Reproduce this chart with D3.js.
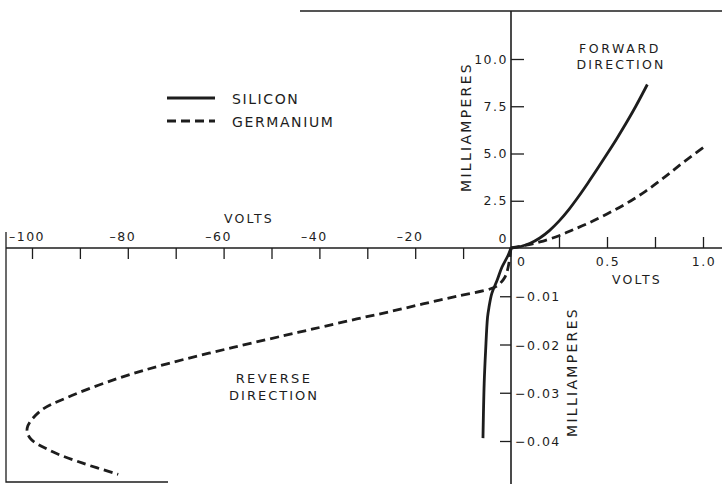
<!DOCTYPE html>
<html>
<head>
<meta charset="utf-8">
<script src="https://cdn.jsdelivr.net/npm/d3@7"></script>
<style>
  body { margin: 0; background: #fff; }
  text { font-family: "DejaVu Sans", sans-serif; fill: #1d1d1d; }
</style>
</head>
<body>
<svg id="chart" width="722" height="484"></svg>
<script>
// tick values on the four half-axes
const reverseVoltTicks = [-100, -90, -80, -70, -60, -50, -40, -30, -20, -10];
const reverseVoltLabels = [-100, -80, -60, -40, -20];
const forwardVoltTicks = [0.25, 0.5, 0.75, 1.0];
const forwardVoltLabels = [0, 0.5, 1.0];
const forwardAmpTicks = [2.5, 5.0, 7.5, 10.0];
const forwardAmpLabels = [0, 2.5, 5.0, 7.5, 10.0];
const reverseAmpTicks = [-0.01, -0.02, -0.03, -0.04];

// silicon, forward (volts, mA) and reverse (volts, mA)
const siliconFwdV = [0, 0.05, 0.1, 0.15, 0.2, 0.25, 0.3, 0.35, 0.4, 0.45, 0.5, 0.55, 0.6, 0.65, 0.71];
const siliconFwdI = [0, 0.08, 0.25, 0.53, 0.92, 1.42, 2.02, 2.7, 3.43, 4.19, 4.97, 5.77, 6.61, 7.5, 8.65];
const siliconRevV = [0, -0.6, -1.9, -2.9, -4.0, -4.6, -4.9, -5.3, -5.6, -5.85];
const siliconRevI = [0, -0.0015, -0.004, -0.0067, -0.0094, -0.0123, -0.0144, -0.0213, -0.0281, -0.0394];

// germanium, forward and reverse
const germaniumFwdV = [0, 0.08, 0.15, 0.25, 0.32, 0.4, 0.5, 0.6, 0.7, 0.8, 0.9, 1.02];
const germaniumFwdI = [0, 0.15, 0.32, 0.65, 0.95, 1.3, 1.8, 2.35, 3.0, 3.75, 4.55, 5.45];
const germaniumRevV = [0, -0.6, -1.25, -2.7, -4.4, -11.3, -18.4, -25.3, -32.2, -39.2, -44.5,
  -58.0, -71.8, -82.3, -92.7, -98.3, -101, -100.4, -96.2, -89.4, -82];
const germaniumRevI = [0, -0.004, -0.006, -0.0077, -0.0085, -0.0100, -0.0116, -0.0132, -0.0147,
  -0.0163, -0.0175, -0.0206, -0.024, -0.0271, -0.031, -0.0338, -0.0373, -0.0394, -0.042, -0.0446, -0.0469];

const ink = "#1d1d1d";
const svg = d3.select("#chart");

const xRev = d3.scaleLinear().domain([-100, 0]).range([32, 511]);
const xFwd = d3.scaleLinear().domain([0, 1]).range([511, 703]);
const yFwd = d3.scaleLinear().domain([0, 10]).range([248, 59]);
const yRev = d3.scaleLinear().domain([0, -0.04]).range([248, 441]);

const originX = xFwd(0);
const originY = yFwd(0);

// frame fragments and main axes
const frame = svg.append("g").attr("stroke", ink).attr("fill", "none");
frame.append("path").attr("d", "M300,11H722").attr("stroke-width", 1.3);
frame.append("path").attr("d", "M6,232V482H168").attr("stroke-width", 1.3);
frame.append("line")
  .attr("x1", 6).attr("x2", 722)
  .attr("y1", originY).attr("y2", originY)
  .attr("stroke-width", 1.6);
frame.append("line")
  .attr("x1", originX).attr("x2", originX)
  .attr("y1", 11).attr("y2", 484)
  .attr("stroke-width", 1.6);

const styleAxis = (g) => {
  g.select(".domain").remove();
  g.selectAll(".tick line").attr("stroke", ink).attr("stroke-width", 1.3);
  g.selectAll(".tick text").remove();
};

svg.append("g")
  .attr("transform", `translate(0,${originY})`)
  .call(d3.axisBottom(xRev).tickValues(reverseVoltTicks).tickSize(11))
  .call(styleAxis);

svg.append("g")
  .attr("transform", `translate(0,${originY})`)
  .call(d3.axisTop(xFwd).tickValues(forwardVoltTicks).tickSize(11))
  .call(styleAxis);

svg.append("g")
  .attr("transform", `translate(${originX},0)`)
  .call(d3.axisRight(yFwd).tickValues(forwardAmpTicks).tickSize(13))
  .call(styleAxis);

svg.append("g")
  .attr("transform", `translate(${originX},0)`)
  .call(d3.axisLeft(yRev).tickValues(reverseAmpTicks).tickSize(11))
  .call(styleAxis);

const fmtMinus = (s) => s.replace("-", "\u2013");

const tickText = svg.append("g")
  .attr("font-size", 12.5)
  .attr("letter-spacing", 1.5);

tickText.selectAll(".rv")
  .data(reverseVoltLabels)
  .join("text")
  .attr("class", "rv")
  .attr("x", (d) => xRev(d) - 5)
  .attr("y", 241)
  .attr("text-anchor", "middle")
  .text((d) => fmtMinus(String(d)));

tickText.selectAll(".fa")
  .data(forwardAmpLabels)
  .join("text")
  .attr("class", "fa")
  .attr("x", originX - 3)
  .attr("y", (d) => Math.min(yFwd(d) + 4.5, 243))
  .attr("text-anchor", "end")
  .text((d) => (d === 0 ? "0" : d3.format(".1f")(d)));

tickText.selectAll(".fv")
  .data(forwardVoltLabels)
  .join("text")
  .attr("class", "fv")
  .attr("x", (d) => (d === 0 ? originX + 6 : xFwd(d) + 1))
  .attr("y", 266)
  .attr("text-anchor", (d) => (d === 0 ? "start" : "middle"))
  .text((d) => (d === 0 ? "0" : d3.format(".1f")(d)));

tickText.selectAll(".ra")
  .data(reverseAmpTicks)
  .join("text")
  .attr("class", "ra")
  .attr("x", originX + 4)
  .attr("y", (d) => yRev(d) + 5)
  .attr("text-anchor", "start")
  .text((d) => fmtMinus(d3.format(".2f")(d)));

// axis titles
const title = (x, y, str, size, spacing, rotate) => {
  svg.append("text")
    .attr("transform", `translate(${x},${y})` + (rotate ? " rotate(-90)" : ""))
    .attr("text-anchor", "middle")
    .attr("font-size", size)
    .attr("letter-spacing", spacing)
    .text(str);
};

title(249, 223, "VOLTS", 12.5, 2.2);
title(637, 284, "VOLTS", 12.5, 2.2);
title(471, 127, "MILLIAMPERES", 14, 2.3, true);
title(577, 372, "MILLIAMPERES", 14, 2.3, true);
title(620, 53, "FORWARD", 12.5, 2.6);
title(621, 69, "DIRECTION", 12.5, 2.2);
title(274, 383, "REVERSE", 13, 2.4);
title(274, 400, "DIRECTION", 13, 2.0);

// curves
const fwdLine = d3.line()
  .x((d) => xFwd(d[0]))
  .y((d) => yFwd(d[1]))
  .curve(d3.curveCatmullRom);

const revLine = d3.line()
  .x((d) => xRev(d[0]))
  .y((d) => yRev(d[1]))
  .curve(d3.curveCatmullRom);

const series = [
  { fwd: d3.zip(siliconFwdV, siliconFwdI), rev: d3.zip(siliconRevV, siliconRevI), dash: null },
  { fwd: d3.zip(germaniumFwdV, germaniumFwdI), rev: d3.zip(germaniumRevV, germaniumRevI), dash: "9,5" }
];

series.forEach((s) => {
  [fwdLine(s.fwd), revLine(s.rev)].forEach((d) => {
    svg.append("path")
      .attr("d", d)
      .attr("fill", "none")
      .attr("stroke", ink)
      .attr("stroke-width", 2.8)
      .attr("stroke-dasharray", s.dash);
  });
});

// legend
const legend = svg.append("g").attr("transform", "translate(167,98)");
[["SILICON", null], ["GERMANIUM", "9,5"]].forEach(([name, dash], i) => {
  legend.append("line")
    .attr("x1", 0).attr("x2", 48)
    .attr("y1", i * 23).attr("y2", i * 23)
    .attr("stroke", ink)
    .attr("stroke-width", 2.8)
    .attr("stroke-dasharray", dash);
  legend.append("text")
    .attr("x", 65)
    .attr("y", i * 23 + 6)
    .attr("font-size", 14)
    .attr("letter-spacing", 1.6)
    .text(name);
});
</script>
</body>
</html>
